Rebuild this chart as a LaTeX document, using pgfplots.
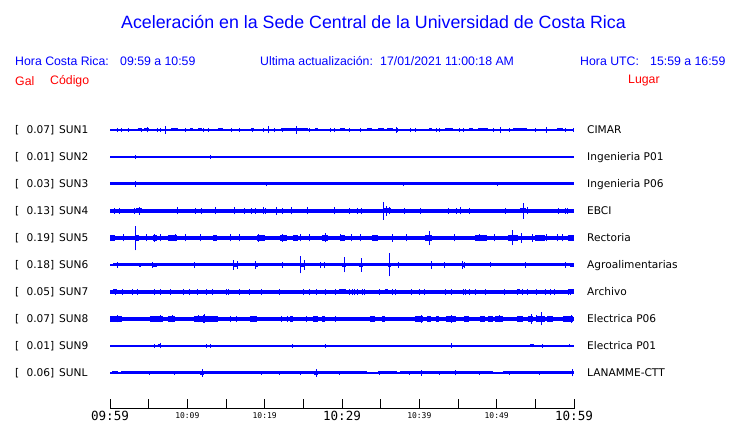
\documentclass[border=0pt]{standalone}
\usepackage{pgfplots}
\pgfplotsset{compat=1.18}
\usepackage{fontspec}
\setmainfont{Liberation Sans}
\newfontfamily\dv{DejaVu Sans}
\newfontfamily\dvm{DejaVu Sans Mono}
\definecolor{tb}{RGB}{0,0,255}
\definecolor{tr}{RGB}{255,0,0}
\newcommand{\bigt}{\fontsize{12.6}{14}\dvm}
\newcommand{\smt}{\fontsize{8}{9}\dvm}
\pgfplotsset{
  trc/.style={scale only axis, width=464pt, height=28pt, xmin=0, xmax=60, ymin=-14, ymax=14,
    axis lines=none, clip=false, anchor=west},
  spk/.style={tb, line width=1pt, unbounded coords=jump, forget plot, mark=none},
  brst/.style={tb, line width=#1, unbounded coords=jump, forget plot, mark=none},
  base/.style={tb, line width=#1, forget plot, mark=none},
}
\begin{document}
\begin{tikzpicture}
\useasboundingbox (0pt,0pt) rectangle (740pt,423pt);
% title and headers
\node[tb, font=\fontsize{17.8}{20}\selectfont, inner sep=0] at (373.5pt,401pt) {Aceleración en la Sede Central de la Universidad de Costa Rica};
\begin{scope}[every node/.style={tb, font=\fontsize{12.3}{14}\selectfont, inner sep=0, anchor=west}]
\node at (15pt,362pt) {Hora Costa Rica:};
\node at (120pt,362pt) {09:59 a 10:59};
\node at (260pt,362pt) {Ultima actualización:};
\node at (380pt,362pt) {17/01/2021 11:00:18 AM};
\node at (580pt,362pt) {Hora UTC:};
\node at (650pt,362pt) {15:59 a 16:59};
\end{scope}
\begin{scope}[every node/.style={tr, font=\fontsize{12.3}{14}\selectfont, inner sep=0, anchor=west}]
\node at (15pt,342pt) {Gal};
\node at (50pt,342pt) {Código};
\node at (628pt,342pt) {Lugar};
\end{scope}
% row labels
\begin{scope}[every node/.style={font=\fontsize{10.6}{12}\dv, inner sep=0}]
\foreach \r/\v/\c/\p in {130/0.07/SUN1/CIMAR, 157/0.01/SUN2/Ingenieria P01, 184/0.03/SUN3/Ingenieria P06, 211/0.13/SUN4/EBCI, 238/0.19/SUN5/Rectoria, 265/0.18/SUN6/Agroalimentarias, 292/0.05/SUN7/Archivo, 319/0.07/SUN8/Electrica P06, 346/0.01/SUN9/Electrica P01, 373/0.06/SUNL/LANAMME-CTT}{
  \node[anchor=base west] at ({15pt},{(419.2-\r)*1pt}) {[};
  \node[anchor=base east] at ({54.5pt},{(419.2-\r)*1pt}) {\v]};
  \node[anchor=base west] at ({59pt},{(419.2-\r)*1pt}) {\c};
  \node[anchor=base west] at ({587pt},{(419.2-\r)*1pt}) {\p};
}
\end{scope}
% SUN1 (row 130)
\begin{axis}[trc, at={(110pt,293pt)}]
\addplot[base=1.2pt] coordinates {(0,0)(60,0)};
\addplot[brst=3pt] coordinates {(3.62,0)(4.14,0)(4.14,nan)(4.40,0)(5.04,0)(5.04,nan)(7.89,0)(8.79,0)(8.79,nan)(10.34,0)(10.73,0)(10.73,nan)(11.38,0)(11.90,0)(11.90,nan)(13.97,0)(14.61,0)(14.61,nan)(18.23,0)(18.62,0)(18.62,nan)(22.11,0)(25.60,0)(25.60,nan)(26.51,0)(26.90,0)(26.90,nan)(29.74,0)(30.39,0)(30.39,nan)(33.23,0)(33.88,0)(33.88,nan)(34.66,0)(35.43,0)(35.43,nan)(35.82,0)(36.59,0)(36.59,nan)(41.25,0)(41.64,0)(41.64,nan)(43.32,0)(44.35,0)(44.35,nan)(46.42,0)(46.94,0)(46.94,nan)(47.59,0)(48.88,0)(48.88,nan)(52.11,0)(53.92,0)(53.92,nan)(57.80,0)(58.58,0)};
\addplot[spk] coordinates {(7.24,-4)(7.24,4)(7.24,nan)(20.56,-3.5)(20.56,3.5)(20.56,nan)(24.18,-4)(24.18,4)(24.18,nan)(4.91,-2.5)(4.91,2.5)(4.91,nan)(37.11,-3)(37.11,3)(37.11,nan)(50.56,-3)(50.56,3)(50.56,nan)(56.38,-3)(56.38,3)(56.38,nan)
(0.91,-2)(0.91,2)(0.91,nan)(1.55,-2)(1.55,2)(1.55,nan)(2.33,-2)(2.33,2)(2.33,nan)(4.01,-2)(4.01,2)(4.01,nan)(6.08,-2)(6.08,2)(6.08,nan)(6.47,-2)(6.47,2)(6.47,nan)(9.70,-2)(9.70,2)(9.70,nan)(12.03,-2)(12.03,2)(12.03,nan)(12.80,-2)(12.80,2)(12.80,nan)(15.65,-2)(15.65,2)(15.65,nan)(16.81,-2)(16.81,2)(16.81,nan)(18.49,-2)(18.49,2)(18.49,nan)(19.91,-2)(19.91,2)(19.91,nan)(21.21,-2)(21.21,2)(21.21,nan)(22.37,-2)(22.37,2)(22.37,nan)(25.86,-2)(25.86,2)(25.86,nan)(28.45,-2)(28.45,2)(28.45,nan)(29.09,-2)(29.09,2)(29.09,nan)(31.03,-2)(31.03,2)(31.03,nan)(32.33,-2)(32.33,2)(32.33,nan)(37.24,-2)(37.24,2)(37.24,nan)(38.92,-2)(38.92,2)(38.92,nan)(39.44,-2)(39.44,2)(39.44,nan)(42.16,-2)(42.16,2)(42.16,nan)(42.67,-2)(42.67,2)(42.67,nan)(45.13,-2)(45.13,2)(45.13,nan)(45.65,-2)(45.65,2)(45.65,nan)(49.53,-2)(49.53,2)(49.53,nan)(51.72,-2)(51.72,2)(51.72,nan)(54.96,-2)(54.96,2)(54.96,nan)(58.84,-2)(58.84,2)(58.84,nan)(59.90,-2)(59.90,2)};
\end{axis}
% SUN2 (row 157)
\begin{axis}[trc, at={(110pt,266pt)}]
\addplot[base=1.2pt] coordinates {(0,0)(60,0)};
\addplot[spk] coordinates {(3.36,-2)(3.36,2)(3.36,nan)(13.06,-2)(13.06,2)};
\end{axis}
% SUN3 (row 184)
\begin{axis}[trc, at={(110pt,239pt)}]
\addplot[base=3pt] coordinates {(0,0)(60,0)};
\addplot[spk] coordinates {(3.36,-2.8)(3.36,2.8)(3.36,nan)(20.2,-2.2)(20.2,2.2)(20.2,nan)(38.0,-2.2)(38.0,2.2)(38.0,nan)(50.1,-2.2)(50.1,2.2)};
\end{axis}
% SUN4 (row 211)
\begin{axis}[trc, at={(110pt,212pt)}]
\addplot[base=3.6pt] coordinates {(0,0)(60,0)};
\addplot[brst=5pt] coordinates {(3.36,0)(4.14,0)(4.14,nan)(35.3,0)(36.3,0)(36.3,nan)(53.0,0)(53.8,0)};
\addplot[spk] coordinates {(3.75,-4)(3.75,4)(3.75,nan)(8.79,-3.5)(8.79,3.5)(8.79,nan)(13.58,-3.5)(13.58,3.5)(13.58,nan)(16.16,-3.5)(16.16,3.5)(16.16,nan)(19.91,-3.5)(19.91,3.5)(19.91,nan)(21.59,-4)(21.59,4)(21.59,nan)(23.53,-3.5)(23.53,3.5)(23.53,nan)(25.60,-3.5)(25.60,3.5)(25.60,nan)(29.09,-3.5)(29.09,3.5)(29.09,nan)
(0.52,-3)(0.52,3)(0.52,nan)(1.29,-3)(1.29,3)(1.29,nan)(3.23,-3)(3.23,3)(3.23,nan)(11.12,-3)(11.12,3)(11.12,nan)(11.77,-3)(11.77,3)(11.77,nan)(17.33,-3)(17.33,3)(17.33,nan)(18.36,-3)(18.36,3)(18.36,nan)(18.75,-3)(18.75,3)(18.75,nan)(20.17,-3)(20.17,3)(20.17,nan)(22.37,-3)(22.37,3)(22.37,nan)(31.03,-3)(31.03,3)(31.03,nan)(31.94,-3)(31.94,3)(31.94,nan)(32.46,-3)(32.46,3)(32.46,nan)
(35.43,-9)(35.43,9)(35.43,nan)(35.69,-5)(35.69,5)(35.69,nan)(36.08,-3.5)(36.08,3.5)(36.08,nan)(38.02,-3)(38.02,3)(38.02,nan)(40.09,-3)(40.09,3)(40.09,nan)(43.71,-3)(43.71,3)(43.71,nan)(44.87,-3)(44.87,3)(44.87,nan)(45.26,-3.5)(45.26,3.5)(45.26,nan)(46.55,-3)(46.55,3)(46.55,nan)(51.08,-3)(51.08,3)(51.08,nan)(53.41,-8)(53.41,8)(53.41,nan)(54.05,-3.5)(54.05,3.5)(54.05,nan)(58.06,-3)(58.06,3)(58.06,nan)(58.84,-3)(58.84,3)(58.84,nan)(59.22,-3)(59.22,3)};
\end{axis}
% SUN5 (row 238)
\begin{axis}[trc, at={(110pt,185pt)}]
\addplot[base=4.4pt] coordinates {(0,0)(60,0)};
\addplot[brst=6.5pt] coordinates {(0,0)(0.65,0)(0.65,nan)(3.23,0)(3.75,0)(3.75,nan)(5.56,0)(6.08,0)(6.08,nan)(7.50,0)(8.66,0)(8.66,nan)(13.32,0)(13.84,0)(13.84,nan)(19.01,0)(20.04,0)(20.04,nan)(21.98,0)(22.89,0)(22.89,nan)(23.66,0)(24.31,0)(24.31,nan)(27.41,0)(28.19,0)(28.19,nan)(29.74,0)(30.39,0)(30.39,nan)(33.88,0)(34.66,0)(34.66,nan)(40.73,0)(41.64,0)(41.64,nan)(47.20,0)(48.75,0)(48.75,nan)(51.46,0)(52.76,0)(52.76,nan)(54.96,0)(56.25,0)(56.25,nan)(59.22,0)(60,0)};
\addplot[spk] coordinates {(3.36,-12.3)(3.36,12.3)(3.36,nan)(5.69,-4)(5.69,4)(5.69,nan)(6.47,-3.5)(6.47,3.5)(6.47,nan)(8.53,-3.5)(8.53,3.5)(8.53,nan)(19.14,-4)(19.14,4)(19.14,nan)(22.37,-4)(22.37,4)(22.37,nan)(27.93,-4.5)(27.93,4.5)(27.93,nan)(29.87,-3.5)(29.87,3.5)(29.87,nan)(36.59,-4)(36.59,4)(36.59,nan)(41.25,-7.3)(41.25,7.3)(41.25,nan)(47.84,-3.5)(47.84,3.5)(47.84,nan)(52.11,-7.5)(52.11,7.5)(52.11,nan)(53.15,-5)(53.15,5)(53.15,nan)(54.57,-4)(54.57,4)(54.57,nan)(56.38,-3.5)(56.38,3.5)(56.38,nan)(57.93,-3.5)(57.93,3.5)(57.93,nan)(58.45,-3.5)(58.45,3.5)(58.45,nan)
(1.81,-3.5)(1.81,3.5)(1.81,nan)(4.78,-3.5)(4.78,3.5)(4.78,nan)(9.70,-3.5)(9.70,3.5)(9.70,nan)(11.64,-3.5)(11.64,3.5)(11.64,nan)(15.52,-3.5)(15.52,3.5)(15.52,nan)(16.81,-3.5)(16.81,3.5)(16.81,nan)(24.57,-3.5)(24.57,3.5)(24.57,nan)(25.86,-3.5)(25.86,3.5)(25.86,nan)(31.29,-3.5)(31.29,3.5)(31.29,nan)(32.33,-3.5)(32.33,3.5)(32.33,nan)(38.40,-3.5)(38.40,3.5)(38.40,nan)(44.61,-3.5)(44.61,3.5)(44.61,nan)(49.78,-3.5)(49.78,3.5)};
\end{axis}
% SUN6 (row 265)
\begin{axis}[trc, at={(110pt,158pt)}]
\addplot[base=1.2pt] coordinates {(0,0)(60,0)};
\addplot[brst=3pt] coordinates {(0.4,0)(60,0)};
\addplot[brst=4.5pt] coordinates {(3.75,0)(4.01,0)(4.01,nan)(5.56,0)(6.08,0)(6.08,nan)(16.03,0)(16.55,0)(16.55,nan)(18.75,0)(19.14,0)(19.14,nan)(24.57,0)(25.22,0)(25.22,nan)(30.0,0)(30.52,0)(30.52,nan)(32.2,0)(32.72,0)(32.72,nan)(35.95,0)(36.34,0)(36.34,nan)(45.52,0)(45.9,0)(45.9,nan)(59.48,0)(60,0)};
\addplot[spk] coordinates {(0.91,-3)(0.91,3)(0.91,nan)(5.56,-3)(5.56,3)(5.56,nan)(10.99,-3)(10.99,3)(10.99,nan)(16.03,-5)(16.03,5)(16.03,nan)(16.55,-4)(16.55,4)(16.55,nan)(18.75,-4)(18.75,4)(18.75,nan)(22.37,-3)(22.37,3)(22.37,nan)(24.57,-8.5)(24.57,8.5)(24.57,nan)(25.09,-5)(25.09,5)(25.09,nan)(27.28,-3)(27.28,3)(27.28,nan)(27.80,-3)(27.80,3)(27.80,nan)(30.26,-7.5)(30.26,7.5)(30.26,nan)(32.46,-7)(32.46,7)(32.46,nan)(36.08,-11.5)(36.08,11.5)(36.08,nan)(37.37,-3)(37.37,3)(37.37,nan)(41.51,-4)(41.51,4)(41.51,nan)(43.19,-3)(43.19,3)(43.19,nan)(45.52,-4)(45.52,4)(45.52,nan)(45.78,-3)(45.78,3)(45.78,nan)(49.14,-2.5)(49.14,2.5)(49.14,nan)(53.79,-3)(53.79,3)(53.79,nan)(58.96,-3)(58.96,3)};
\end{axis}
% SUN7 (row 292)
\begin{axis}[trc, at={(110pt,131pt)}]
\addplot[base=3.2pt] coordinates {(0,0)(60,0)};
\addplot[brst=5pt] coordinates {(0.39,0)(0.91,0)(0.91,nan)(29.61,0)(30.52,0)(30.52,nan)(35.56,0)(35.95,0)(35.95,nan)(52.63,0)(53.02,0)(53.02,nan)(59.22,0)(60,0)};
\addplot[spk] coordinates {(0.65,-3)(0.65,3)(0.65,nan)(1.68,-2.8)(1.68,2.8)(1.68,nan)(2.97,-2.8)(2.97,2.8)(2.97,nan)(3.62,-2.8)(3.62,2.8)(3.62,nan)(5.69,-2.8)(5.69,2.8)(5.69,nan)(6.47,-2.8)(6.47,2.8)(6.47,nan)(7.76,-2.8)(7.76,2.8)(7.76,nan)(9.44,-2.8)(9.44,2.8)(9.44,nan)(10.34,-2.8)(10.34,2.8)(10.34,nan)(11.25,-2.8)(11.25,2.8)(11.25,nan)(12.54,-2.8)(12.54,2.8)(12.54,nan)(13.19,-2.8)(13.19,2.8)(13.19,nan)(15.00,-2.8)(15.00,2.8)(15.00,nan)(15.26,-2.8)(15.26,2.8)(15.26,nan)(16.81,-2.8)(16.81,2.8)(16.81,nan)(18.10,-2.8)(18.10,2.8)(18.10,nan)(19.65,-2.8)(19.65,2.8)(19.65,nan)(21.98,-2.8)(21.98,2.8)(21.98,nan)(24.96,-2.8)(24.96,2.8)(24.96,nan)(25.86,-2.8)(25.86,2.8)(25.86,nan)(26.64,-2.8)(26.64,2.8)(26.64,nan)(27.93,-2.8)(27.93,2.8)(27.93,nan)(29.22,-2.8)(29.22,2.8)(29.22,nan)
(31.03,-3)(31.03,3)(31.03,nan)(31.42,-2.8)(31.42,2.8)(31.42,nan)(31.68,-3)(31.68,3)(31.68,nan)(31.94,-2.8)(31.94,2.8)(31.94,nan)(32.59,-3)(32.59,3)(32.59,nan)(32.97,-3)(32.97,3)(32.97,nan)(34.91,-2.8)(34.91,2.8)(34.91,nan)(36.47,-2.8)(36.47,2.8)(36.47,nan)(36.98,-2.8)(36.98,2.8)(36.98,nan)(39.05,-2.8)(39.05,2.8)(39.05,nan)(39.96,-2.8)(39.96,2.8)(39.96,nan)(40.73,-2.8)(40.73,2.8)(40.73,nan)(43.32,-2.8)(43.32,2.8)(43.32,nan)(44.22,-2.8)(44.22,2.8)(44.22,nan)(45.65,-2.8)(45.65,2.8)(45.65,nan)(46.03,-2.8)(46.03,2.8)(46.03,nan)(46.55,-2.8)(46.55,2.8)(46.55,nan)(47.20,-2.8)(47.20,2.8)(47.20,nan)(48.62,-2.8)(48.62,2.8)(48.62,nan)(50.95,-2.8)(50.95,2.8)(50.95,nan)(52.63,-2.8)(52.63,2.8)(52.63,nan)(53.28,-3)(53.28,3)(53.28,nan)(54.05,-2.8)(54.05,2.8)(54.05,nan)(55.21,-2.8)(55.21,2.8)(55.21,nan)(56.25,-2.8)(56.25,2.8)(56.25,nan)(56.90,-2.8)(56.90,2.8)(56.90,nan)(57.54,-2.8)(57.54,2.8)(57.54,nan)(59.35,-3)(59.35,3)(59.35,nan)(59.61,-3)(59.61,3)};
\end{axis}
% SUN8 (row 319)
\begin{axis}[trc, at={(110pt,104pt)}]
\addplot[base=3.6pt] coordinates {(0,0)(60,0)};
\addplot[brst=6.5pt] coordinates {(0,0)(1.55,0)(1.55,nan)(5.17,0)(6.85,0)(6.85,nan)(7.50,0)(8.40,0)(8.40,nan)(10.86,0)(13.97,0)(13.97,nan)(18.10,0)(19.01,0)(19.01,nan)(23.28,0)(23.66,0)(23.66,nan)(26.25,0)(26.90,0)(26.90,nan)(27.41,0)(27.80,0)(27.80,nan)(33.62,0)(34.27,0)(34.27,nan)(35.17,0)(35.56,0)(35.56,nan)(39.44,0)(40.47,0)(40.47,nan)(40.99,0)(41.51,0)(41.51,nan)(42.16,0)(42.54,0)(42.54,nan)(43.45,0)(44.74,0)(44.74,nan)(45.78,0)(46.42,0)(46.42,nan)(47.84,0)(48.49,0)(48.49,nan)(48.88,0)(49.53,0)(49.53,nan)(49.78,0)(50.82,0)(50.82,nan)(52.63,0)(53.41,0)(53.41,nan)(54.05,0)(54.70,0)(54.70,nan)(55.21,0)(56.25,0)(56.25,nan)(56.51,0)(57.28,0)(57.28,nan)(58.58,0)(59.87,0)};
\addplot[spk] coordinates {(1.03,-3.5)(1.03,3.5)(1.03,nan)(6.47,-3.5)(6.47,3.5)(6.47,nan)(8.02,-3.5)(8.02,3.5)(8.02,nan)(12.28,-4.5)(12.28,4.5)(12.28,nan)(12.03,-4)(12.03,4)(12.03,nan)(11.38,-3.5)(11.38,3.5)(11.38,nan)(15.52,-3)(15.52,3)(15.52,nan)(16.42,-3)(16.42,3)(16.42,nan)(22.24,-3)(22.24,3)(22.24,nan)(22.89,-3)(22.89,3)(22.89,nan)(25.47,-3)(25.47,3)(25.47,nan)(29.22,-3)(29.22,3)(29.22,nan)(40.34,-4)(40.34,4)(40.34,nan)(44.22,-4)(44.22,4)(44.22,nan)(50.43,-3.5)(50.43,3.5)(50.43,nan)(54.44,-5)(54.44,5)(54.44,nan)(55.86,-6.5)(55.86,6.5)(55.86,nan)(55.09,-3.5)(55.09,3.5)(55.09,nan)(59.74,-4)(59.74,4)};
\end{axis}
% SUN9 (row 346)
\begin{axis}[trc, at={(110pt,77pt)}]
\addplot[base=1.2pt] coordinates {(0,0)(60,0)};
\addplot[brst=3pt] coordinates {(6.2,0)(6.6,0)(6.6,nan)(54.3,0)(54.8,0)};
\addplot[spk] coordinates {(5.69,-2)(5.69,2)(5.69,nan)(6.47,-2.5)(6.47,2.5)(6.47,nan)(12.54,-2)(12.54,2)(12.54,nan)(13.06,-2)(13.06,2)(13.06,nan)(23.66,-2)(23.66,2)(23.66,nan)(27.93,-2)(27.93,2)(27.93,nan)(44.22,-2.5)(44.22,2.5)(44.22,nan)(54.57,-1.5)(54.57,1.5)(54.57,nan)(55.99,-2)(55.99,2)(55.99,nan)(59.48,-1.5)(59.48,1.5)};
\end{axis}
% SUNL (row 373)
\begin{axis}[trc, at={(110pt,50pt)}]
\addplot[base=1.2pt] coordinates {(0,0)(60,0)};
\addplot[brst=3pt] coordinates {(0.26,0)(1.03,0)(1.03,nan)(1.42,0)(11.64,0)(11.64,nan)(12.15,0)(33.23,0)(33.23,nan)(34.66,0)(37.11,0)(37.11,nan)(37.50,0)(49.53,0)(49.53,nan)(50.82,0)(60,0)};
\addplot[brst=4pt] coordinates {(11.64,0)(12.15,0)(12.15,nan)(26.38,0)(26.9,0)};
\addplot[spk] coordinates {(11.90,-4)(11.90,4)(11.90,nan)(26.64,-4)(26.64,4)(26.64,nan)(40.22,-3)(40.22,3)(40.22,nan)(44.74,-2.5)(44.74,2.5)(44.74,nan)(59.87,-3.5)(59.87,3.5)(59.87,nan)(5.17,-2)(5.17,2)(5.17,nan)(8.40,-2)(8.40,2)(8.40,nan)(19.65,-2)(19.65,2)(19.65,nan)(21.98,-2)(21.98,2)(21.98,nan)(24.57,-2)(24.57,2)(24.57,nan)(29.74,-2)(29.74,2)(29.74,nan)(34.91,-2)(34.91,2)(34.91,nan)(38.79,-2)(38.79,2)(38.79,nan)(42.67,-2)(42.67,2)(42.67,nan)(47.84,-2)(47.84,2)(47.84,nan)(51.72,-2)(51.72,2)(51.72,nan)(55.60,-2)(55.60,2)};
\end{axis}
% time axis
\begin{axis}[scale only axis, width=464pt, height=10pt, at={(110pt,14pt)}, anchor=south west,
  xmin=0, xmax=60, ymin=0, ymax=1, axis x line=bottom, axis y line=none,
  x axis line style={-, black, line width=1pt},
  xtick={0,5,...,60}, tick align=inside, major tick length=10pt,
  major tick style={black, line width=1pt},
  xticklabels={\bigt 09:59,{},\smt 10:09,{},\smt 10:19,{},\bigt 10:29,{},\smt 10:39,{},\smt 10:49,{},\bigt 10:59},
  x tick label style={anchor=center, yshift=-7pt, inner sep=0pt},
  clip=false]
\addplot[draw=none, forget plot] coordinates {(0,0)(60,0)};
\end{axis}
\end{tikzpicture}
\end{document}
